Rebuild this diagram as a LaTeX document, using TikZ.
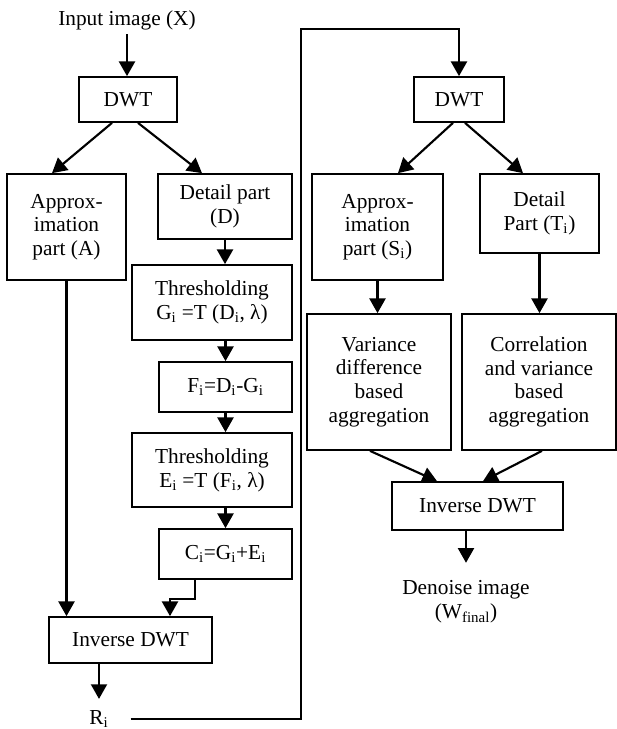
\documentclass[tikz,border=0pt]{standalone}
\usepackage{fontspec}
\setmainfont{Liberation Serif}
\usetikzlibrary{calc,arrows.meta}

\begin{document}
\begin{tikzpicture}[x=0.75pt, y=-0.75pt,
    every node/.style={font=\fontsize{16}{17.8}\selectfont, align=center},
    blk/.style={draw, line width=1.3pt, inner sep=2pt},
    arr/.style={line width=1.6pt, -{Triangle[length=11pt,width=12pt]}}]

        \useasboundingbox (0,0) rectangle (617,729);

        \node (input) at (127,20) {Input image (X)};
        \node[blk, minimum width=73.5pt, minimum height=33.75pt] (dwtA) at (128,99.5) {DWT};
        \node[blk, minimum width=89.25pt, minimum height=79.5pt] (apA) at (66.5,227) {Approx-\\imation\\part (A)};
        \node[blk, minimum width=100.5pt, minimum height=48.75pt] (detA) at (225,206.5) {Detail part\\(D)};
        \node[blk, minimum width=120pt, minimum height=56.25pt] (thrG) at (212,302.5) {Thresholding\\G\textsubscript{i} =T (D\textsubscript{i}, λ)};
        \node[blk, minimum width=99.75pt, minimum height=37.5pt] (fbox) at (225.5,387) {F\textsubscript{i}=D\textsubscript{i}-G\textsubscript{i}};
        \node[blk, minimum width=120pt, minimum height=55.5pt] (thrE) at (212,470) {Thresholding\\E\textsubscript{i} =T (F\textsubscript{i}, λ)};
        \node[blk, minimum width=99.75pt, minimum height=37.5pt] (cbox) at (225.5,554) {C\textsubscript{i}=G\textsubscript{i}+E\textsubscript{i}};
        \node[blk, minimum width=122.25pt, minimum height=34.5pt] (invA) at (130.5,640) {Inverse DWT};
        \node (ri) at (99,719) {R\textsubscript{i}};

        \node[blk, minimum width=67.5pt, minimum height=33.75pt] (dwtB) at (459,99.5) {DWT};
        \node[blk, minimum width=98.25pt, minimum height=79.5pt] (apB) at (377.5,227) {Approx-\\imation\\part (S\textsubscript{i})};
        \node[blk, minimum width=89.25pt, minimum height=59.25pt] (detB) at (539.5,213.5) {Detail\\Part (T\textsubscript{i})};
        \node[blk, minimum width=108pt, minimum height=102pt] (varB) at (379,382) {Variance\\difference\\based\\aggregation};
        \node[blk, minimum width=115.5pt, minimum height=102pt] (corB) at (539,382) {Correlation\\and variance\\based\\aggregation};
        \node[blk, minimum width=128.25pt, minimum height=36pt] (invB) at (477.5,506) {Inverse DWT};
        \node (den) at (466,602) {Denoise image\\(W\textsubscript{final})};

        \coordinate (loop) at (301,29);

        \draw[arr] (input.south) -- (input.south |- dwtA.north);
        \draw[arr] ($(dwtA.south)+(-16,0)$) -- ($(apA.north)+(-14.5,0)$);
        \draw[arr] ($(dwtA.south)+(10,0)$) -- ($(detA.north)+(-23,0)$);
        \draw[arr] (detA.south) -- (detA.south |- thrG.north);
        \draw[arr] (fbox.north |- thrG.south) -- (fbox.north);
        \draw[arr] (fbox.south) -- (fbox.south |- thrE.north);
        \draw[arr] (cbox.north |- thrE.south) -- (cbox.north);
        \draw[arr] ($(cbox.south)+(-30.5,0)$) -- ++(0,19) -| ($(invA.north)+(39.5,0)$);
        \draw[arr] (apA.south) -- (apA.south |- invA.north);
        \draw[arr, shorten >=5pt] (invA.south -| ri) -- (ri.north);
        \draw[arr, shorten <=13pt] (ri.east) -| (loop) -| (dwtB.north);

        \draw[arr] ($(dwtB.south)+(-6,0)$) -- ($(apB.north)+(20.5,0)$);
        \draw[arr] ($(dwtB.south)+(6,0)$) -- ($(detB.north)+(-16.5,0)$);
        \draw[arr] (apB.south) -- (apB.south |- varB.north);
        \draw[arr] (detB.south) -- (detB.south |- corB.north);
        \draw[arr] ($(varB.south)+(-9,0)$) -- ($(invB.north)+(-40.5,0)$);
        \draw[arr] ($(corB.south)+(3,0)$) -- ($(invB.north)+(5.5,0)$);
        \draw[arr, shorten >=10pt] (den.north |- invB.south) -- (den.north);

    \end{tikzpicture}
\end{document}
